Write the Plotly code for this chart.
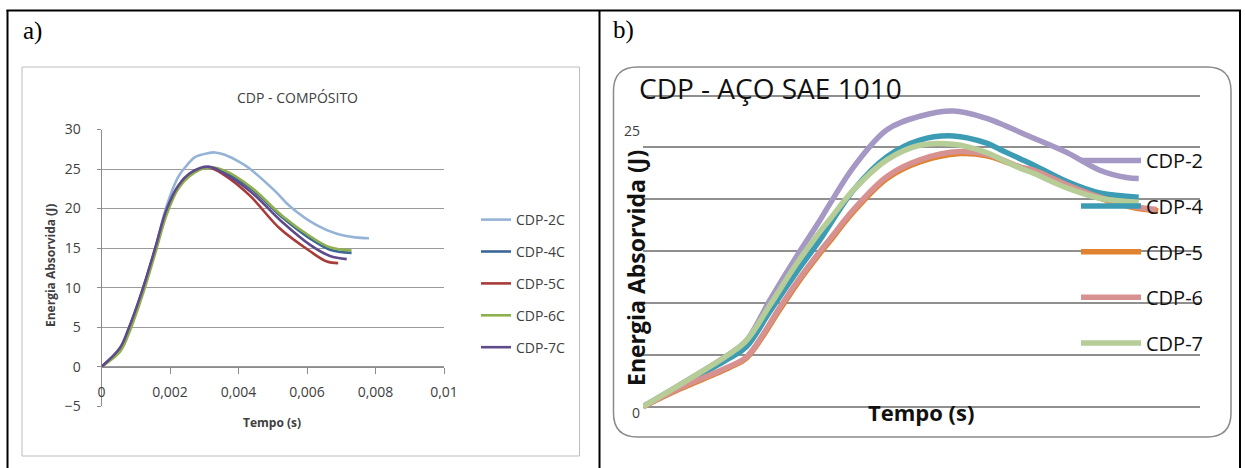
import plotly.graph_objects as go

W, H = 1245, 468

# ---------------- data: panel a) CDP - COMPÓSITO ----------------
t_2c = [0, 0.00054, 0.00078, 0.00117, 0.00156, 0.0019, 0.00224, 0.00244, 0.00273, 0.0031, 0.00331, 0.0036, 0.0041, 0.00434, 0.00507, 0.0055, 0.00628, 0.00687, 0.0074, 0.00781]
e_2c = [0, 2.3, 4.6, 9.3, 14.8, 20.3, 24.0, 25.2, 26.5, 27.0, 27.1, 26.8, 25.7, 25.0, 22.2, 20.3, 17.9, 16.8, 16.35, 16.25]

t_4c = [0, 0.00054, 0.00078, 0.00117, 0.00156, 0.0019, 0.00224, 0.00263, 0.00312, 0.0036, 0.00434, 0.0053, 0.00609, 0.00667, 0.0073]
e_4c = [0, 2.2, 4.5, 9.2, 14.7, 19.7, 22.7, 24.5, 25.2, 24.6, 22.6, 18.8, 16.2, 14.8, 14.4]

t_5c = [0, 0.00054, 0.00078, 0.00117, 0.00156, 0.0019, 0.00224, 0.00263, 0.00312, 0.0036, 0.00434, 0.0052, 0.00609, 0.00658, 0.00691]
e_5c = [0, 2.2, 4.5, 9.2, 14.7, 19.7, 22.8, 24.5, 25.2, 24.2, 21.6, 17.5, 14.6, 13.3, 13.1]

t_6c = [0, 0.00054, 0.00078, 0.00117, 0.00156, 0.0019, 0.00224, 0.00263, 0.00312, 0.0036, 0.00434, 0.0053, 0.00609, 0.00667, 0.0073]
e_6c = [0, 1.9, 4.0, 8.7, 14.2, 19.2, 22.5, 24.3, 25.2, 24.8, 22.8, 19.0, 16.5, 15.1, 14.7]

t_7c = [0, 0.00054, 0.00078, 0.00117, 0.00156, 0.0019, 0.00224, 0.00263, 0.00312, 0.0036, 0.00434, 0.0053, 0.00609, 0.00667, 0.00716]
e_7c = [0, 2.4, 4.7, 9.4, 14.9, 19.9, 22.9, 24.6, 25.3, 24.4, 22.2, 18.2, 15.4, 14.0, 13.6]

names_a = ["CDP-2C", "CDP-4C", "CDP-5C", "CDP-6C", "CDP-7C"]
colors_a = ["#95B3D7", "#3A6796", "#A83C39", "#8FB04E", "#5F4B8B"]

# ---------------- data: panel b) CDP - AÇO SAE 1010 (time axis unlabelled) ----------------
t_2 = [0, 6.6, 15.6, 18.6, 22.8, 27.6, 31.8, 33.6, 37.8, 43.8, 49.7, 55.7, 61.7, 64.1, 70.1, 76.1, 82.0, 86.8, 89.0]
e_2 = [0, 2.1, 5.1, 6.4, 10.3, 14.5, 18.0, 19.6, 23.1, 26.7, 28.0, 28.5, 27.8, 27.3, 25.9, 24.5, 22.8, 22.1, 22.0]

t_4 = [0, 6.6, 15.6, 18.6, 22.8, 27.6, 31.8, 33.6, 37.8, 43.8, 49.7, 55.7, 61.7, 64.1, 67.7, 70.1, 76.1, 82.0, 89.0]
e_4 = [0, 2.0, 4.7, 5.8, 9.2, 13.0, 16.1, 17.6, 20.9, 24.1, 25.7, 26.1, 25.4, 24.8, 23.9, 23.3, 21.7, 20.6, 20.2]

t_5 = [0, 6.6, 15.6, 18.6, 24.6, 27.6, 31.8, 33.6, 37.8, 43.8, 49.7, 56.9, 61.7, 64.1, 67.7, 70.1, 76.1, 82.0, 88.0, 92.5]
e_5 = [0, 1.7, 3.8, 4.7, 9.4, 11.8, 14.8, 16.0, 18.8, 22.0, 23.6, 24.4, 24.2, 23.8, 23.1, 22.7, 21.3, 20.1, 19.2, 18.9]

t_6 = [0, 6.6, 15.6, 18.6, 24.6, 27.6, 31.8, 33.6, 37.8, 43.8, 49.7, 56.9, 61.7, 64.1, 67.7, 70.1, 76.1, 82.0, 88.0, 92.2]
e_6 = [0, 1.8, 3.9, 4.8, 9.6, 12.0, 15.0, 16.2, 19.0, 22.2, 23.8, 24.6, 24.3, 23.9, 23.1, 22.8, 21.4, 20.2, 19.3, 19.0]

t_7 = [0, 6.6, 15.6, 18.6, 22.8, 27.6, 31.8, 33.6, 37.8, 43.8, 49.7, 55.7, 61.7, 64.1, 67.7, 70.1, 76.1, 82.0, 89.0]
e_7 = [0, 2.1, 5.1, 6.4, 9.8, 13.8, 16.9, 18.1, 20.9, 23.8, 25.2, 25.3, 24.5, 23.9, 23.0, 22.5, 21.1, 20.1, 19.7]

names_b = ["CDP-2", "CDP-4", "CDP-5", "CDP-6", "CDP-7"]
colors_b = ["#A598C4", "#3C9CB3", "#E0822F", "#D69190", "#B6CD97"]

# y-axis gridlines / tick labels for b)
b_gridvals = [0, 5, 10, 15, 20, 25, 30]
b_label_low = [0]
b_label_high = [25]


def px(x):
    return x / W


def py(y):
    return 1 - y / H


fig = go.Figure()

for t, e, n, c in zip([t_2c, t_4c, t_5c, t_6c, t_7c], [e_2c, e_4c, e_5c, e_6c, e_7c], names_a, colors_a):
    fig.add_trace(go.Scatter(x=t, y=e, name=n, mode="lines",
                             line=dict(color=c, width=2.6, shape="spline", smoothing=1.0),
                             xaxis="x", yaxis="y", legend="legend", legendgroup=n))

for t, e, n, c in zip([t_2, t_4, t_5, t_6, t_7], [e_2, e_4, e_5, e_6, e_7], names_b, colors_b):
    fig.add_trace(go.Scatter(x=t, y=e, name=n, mode="lines",
                             line=dict(color=c, width=5.5, shape="spline", smoothing=1.0),
                             xaxis="x2", yaxis="y2", legend="legend2", legendgroup=n + "b"))

# empty trace so that the overlaid label axis (y3) is registered and drawn
fig.add_trace(go.Scatter(x=[], y=[], xaxis="x2", yaxis="y3", showlegend=False, hoverinfo="skip"))

sans = "Open Sans, Noto Sans, sans-serif"

# b) y mapping: 0 at 406.7 px, 10.373 px per unit
b_y0, b_k = 406.7, 10.373
b_lo, b_hi = -0.6, 30.3
b_dom = [py(b_y0 - b_lo * b_k), py(b_y0 - b_hi * b_k)]

fig.update_layout(
    width=W, height=H,
    margin=dict(l=0, r=0, t=0, b=0, pad=0, autoexpand=False),
    paper_bgcolor="white", plot_bgcolor="rgba(0,0,0,0)",
    separators=", ",
    showlegend=True,
    xaxis=dict(domain=[px(101.5), px(444.0)], range=[0, 0.01], dtick=0.002, tick0=0,
               anchor="free", position=py(366.7), automargin=False,
               showgrid=False, zeroline=False, showline=True, linecolor="#8C8C8C", linewidth=1,
               ticks="outside", ticklen=6, tickcolor="#8C8C8C",
               tickfont=dict(family=sans, size=14, color="#404040"), ticklabelstandoff=6),
    yaxis=dict(domain=[py(406.2), py(129.5)], range=[-5, 30], dtick=5, anchor="x", automargin=False,
               showgrid=True, gridcolor="#9A9A9A", gridwidth=1, zeroline=False,
               showline=True, linecolor="#8C8C8C", linewidth=1,
               ticks="outside", ticklen=4, tickcolor="#8C8C8C",
               tickfont=dict(family=sans, size=14, color="#404040"), ticklabelstandoff=13),
    xaxis2=dict(domain=[px(643), px(1200)], range=[0, 100], anchor="y2", automargin=False,
                showgrid=False, zeroline=False, showline=False, showticklabels=False, ticks=""),
    yaxis2=dict(domain=b_dom, range=[b_lo, b_hi], anchor="x2",
                automargin=False, tickvals=b_gridvals, ticktext=[str(v) if v in b_label_low else "" for v in b_gridvals],
                showgrid=True, gridcolor="#8F8F8F", gridwidth=1.5, zeroline=False, showline=False,
                ticks="", tickfont=dict(family=sans, size=14, color="#404040"),
                ticklabelstandoff=2, ticklabelshift=6),
    yaxis3=dict(domain=b_dom, range=[b_lo, b_hi], anchor="x2", overlaying="y2", side="left",
                automargin=False, tickvals=b_label_high, ticktext=[str(v) for v in b_label_high],
                showgrid=False, zeroline=False, showline=False, ticks="",
                tickfont=dict(family=sans, size=14, color="#404040"),
                ticklabelstandoff=2, ticklabelshift=-16),
    legend=dict(x=px(476), y=py(204), xanchor="left", yanchor="top",
                font=dict(family=sans, size=14, color="#404040"),
                bgcolor="rgba(0,0,0,0)", tracegroupgap=10.7, traceorder="grouped"),
    legend2=dict(x=px(1076), y=py(141), xanchor="left", yanchor="top",
                 font=dict(family=sans, size=20, color="#111111"), itemwidth=60,
                 bgcolor="rgba(0,0,0,0)", tracegroupgap=16.6, traceorder="grouped"),
)

# frames and table lines
def rounded_path(x0, y0, x1, y1, r):
    def p(x, y):
        return f"{px(x):.5f},{py(y):.5f}"
    return (f"M {p(x0 + r, y0)} L {p(x1 - r, y0)} Q {p(x1, y0)} {p(x1, y0 + r)} "
            f"L {p(x1, y1 - r)} Q {p(x1, y1)} {p(x1 - r, y1)} L {p(x0 + r, y1)} "
            f"Q {p(x0, y1)} {p(x0, y1 - r)} L {p(x0, y0 + r)} Q {p(x0, y0)} {p(x0 + r, y0)} Z")

shapes = [
    dict(type="rect", xref="paper", yref="paper", x0=px(22), x1=px(579.5), y0=py(456), y1=py(67),
         line=dict(color="#BDBDBD", width=1), layer="below"),
    dict(type="path", xref="paper", yref="paper", path=rounded_path(613.5, 67, 1231, 437, 24),
         line=dict(color="#8A8A8A", width=1.5), layer="below"),
    dict(type="line", xref="paper", yref="paper", x0=px(6.5), x1=px(1241), y0=py(10.5), y1=py(10.5),
         line=dict(color="black", width=2)),
    dict(type="line", xref="paper", yref="paper", x0=px(7.5), x1=px(7.5), y0=py(10), y1=py(470),
         line=dict(color="black", width=2)),
    dict(type="line", xref="paper", yref="paper", x0=px(599.5), x1=px(599.5), y0=py(10), y1=py(470),
         line=dict(color="black", width=2)),
    dict(type="line", xref="paper", yref="paper", x0=px(1240), x1=px(1240), y0=py(10), y1=py(470),
         line=dict(color="black", width=2)),
]
fig.update_layout(shapes=shapes)

ann = [
    dict(text="a)", x=px(21), y=py(31), xanchor="left", yanchor="middle",
         font=dict(family="Liberation Serif, serif", size=25, color="black")),
    dict(text="b)", x=px(611), y=py(30), xanchor="left", yanchor="middle",
         font=dict(family="Liberation Serif, serif", size=25, color="black")),
    dict(text="CDP - COMPÓSITO", x=px(297), y=py(97), xanchor="center", yanchor="middle",
         font=dict(family=sans, size=14, color="#404040")),
    dict(text="<b>Energia Absorvida (J)</b>", x=px(50), y=py(266), xanchor="center", yanchor="middle",
         textangle=-90, font=dict(family=sans, size=12, color="#404040")),
    dict(text="<b>Tempo (s)</b>", x=px(272), y=py(422), xanchor="center", yanchor="middle",
         font=dict(family=sans, size=12, color="#404040")),
    dict(text="CDP - AÇO SAE 1010", x=px(637), y=py(88), xanchor="left", yanchor="middle",
         font=dict(family=sans, size=28, color="#111111")),
    dict(text="<b>Energia Absorvida (J)</b>", x=px(636), y=py(268), xanchor="center", yanchor="middle",
         textangle=-90, font=dict(family=sans, size=23, color="#111111")),
    dict(text="<b>Tempo (s)</b>", x=px(921), y=py(412), xanchor="center", yanchor="middle",
         font=dict(family=sans, size=22, color="#111111")),
]
for a in ann:
    a.update(xref="paper", yref="paper", showarrow=False)
fig.update_layout(annotations=ann)

fig.write_html("out.html", config={"displayModeBar": False},
               post_script="document.body.style.margin='0';document.body.style.overflow='hidden';")
